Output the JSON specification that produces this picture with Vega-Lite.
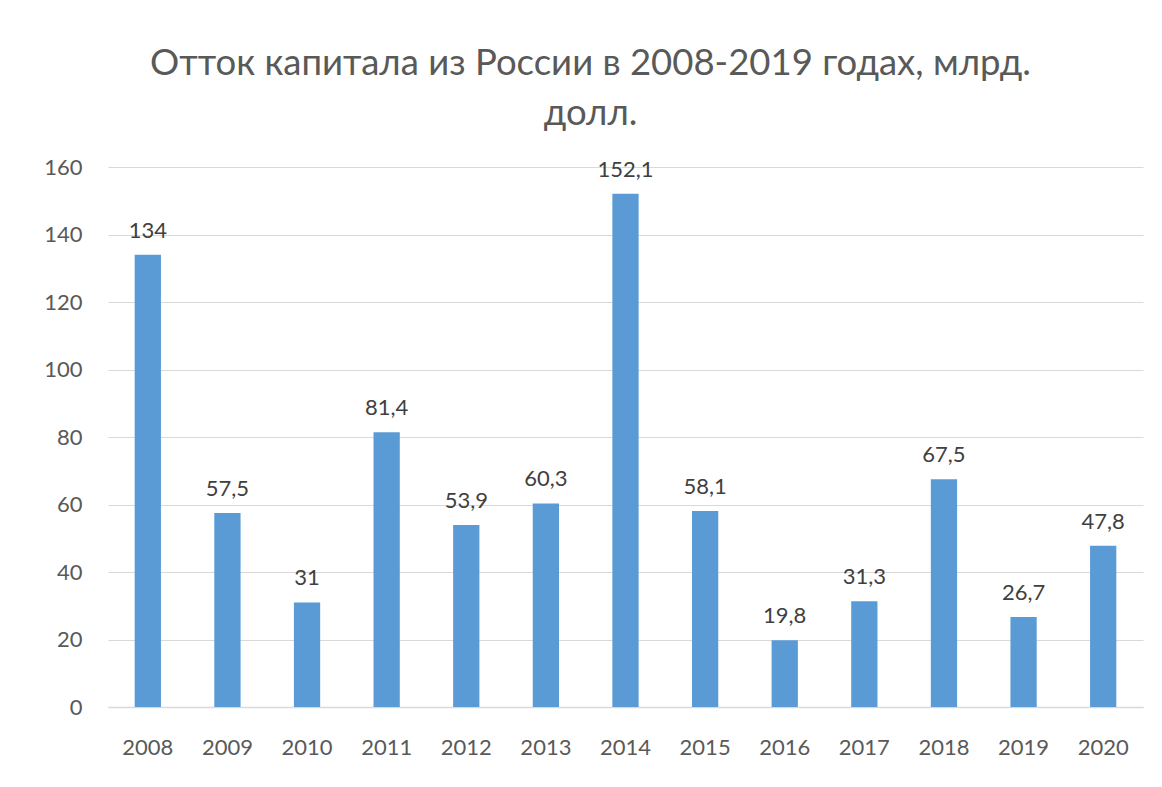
{
  "$schema": "https://vega.github.io/schema/vega-lite/v6.json",
  "autosize": {"type": "none"},
  "width": 1035,
  "height": 540,
  "padding": {"left": 108, "top": 167, "right": 19, "bottom": 80},
  "background": "white",
  "title": {
    "text": ["Отток капитала из России в 2008-2019 годах, млрд.", "долл."],
    "font": "Lato",
    "fontSize": 36.5,
    "fontWeight": "normal",
    "color": "#595959",
    "anchor": "middle",
    "frame": "group",
    "dx": -35,
    "offset": 24,
    "lineHeight": 50
  },
  "data": {
    "values": [
      {"year": "2008", "value": 134, "label": "134"},
      {"year": "2009", "value": 57.5, "label": "57,5"},
      {"year": "2010", "value": 31, "label": "31"},
      {"year": "2011", "value": 81.4, "label": "81,4"},
      {"year": "2012", "value": 53.9, "label": "53,9"},
      {"year": "2013", "value": 60.3, "label": "60,3"},
      {"year": "2014", "value": 152.1, "label": "152,1"},
      {"year": "2015", "value": 58.1, "label": "58,1"},
      {"year": "2016", "value": 19.8, "label": "19,8"},
      {"year": "2017", "value": 31.3, "label": "31,3"},
      {"year": "2018", "value": 67.5, "label": "67,5"},
      {"year": "2019", "value": 26.7, "label": "26,7"},
      {"year": "2020", "value": 47.8, "label": "47,8"}
    ]
  },
  "encoding": {
    "x": {
      "field": "year",
      "type": "ordinal",
      "scale": {"paddingInner": 0.67, "paddingOuter": 0.335},
      "axis": {
        "title": null,
        "labelAngle": 0,
        "labelFont": "Lato",
        "labelFontSize": 22,
        "labelColor": "#595959",
        "labelPadding": 30,
        "ticks": false,
        "domainColor": "#d9d9d9",
        "domainWidth": 1.5
      }
    },
    "y": {
      "field": "value",
      "type": "quantitative",
      "scale": {"domain": [0, 160], "nice": false},
      "axis": {
        "title": null,
        "values": [0, 20, 40, 60, 80, 100, 120, 140, 160],
        "labelFont": "Lato",
        "labelFontSize": 22,
        "labelColor": "#595959",
        "labelPadding": 26,
        "ticks": false,
        "domain": false,
        "gridColor": "#d9d9d9",
        "gridWidth": 1.2
      }
    }
  },
  "layer": [
    {"mark": {"type": "bar", "color": "#5b9bd5"}},
    {
      "mark": {"type": "text", "font": "Lato", "fontSize": 22, "color": "#404040", "baseline": "bottom", "dy": -12},
      "encoding": {"text": {"field": "label"}}
    }
  ],
  "config": {"view": {"stroke": null}}
}
